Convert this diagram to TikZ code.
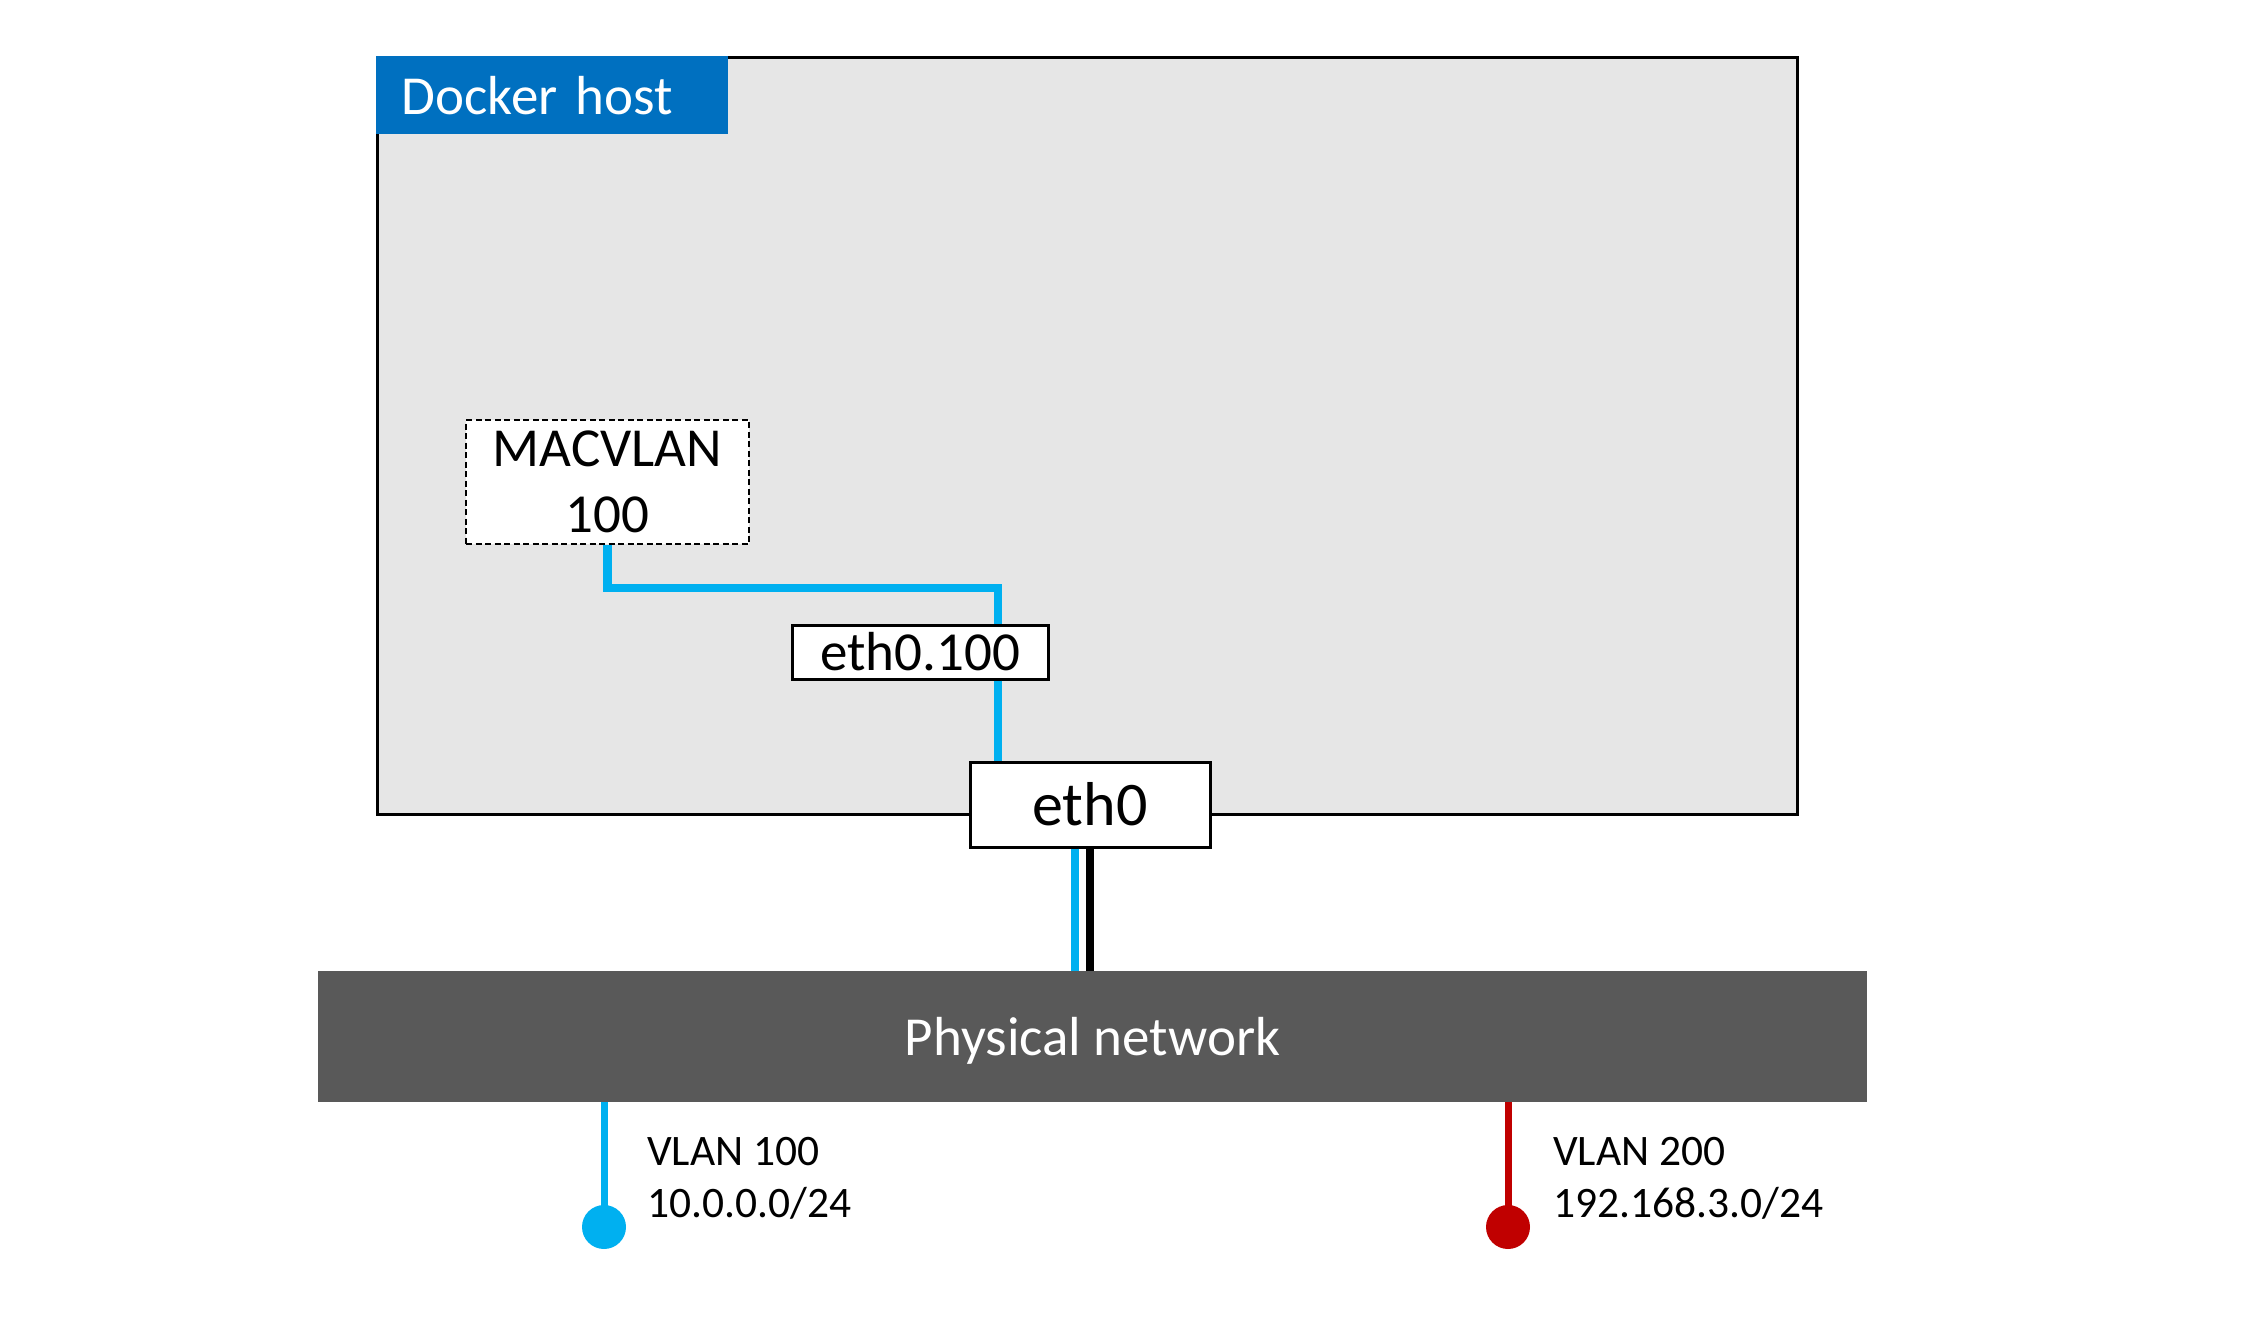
\documentclass[tikz,border=0pt]{standalone}
\usepackage{fontspec}
\setmainfont{Carlito}
\definecolor{hostgray}{HTML}{E6E6E6}
\definecolor{dockerblue}{HTML}{0070C0}
\definecolor{linkblue}{HTML}{00B0F0}
\definecolor{netgray}{HTML}{595959}
\definecolor{vlanred}{HTML}{C00000}
\begin{document}
\begin{tikzpicture}[x=1pt,y=-1pt,
  hostbox/.style={draw=black, line width=3pt, fill=hostgray, inner sep=0pt},
  ifbox/.style={draw=black, line width=3pt, fill=white, inner sep=2pt, align=center},
  macbox/.style={draw=black, line width=2.5pt, dash pattern=on 6pt off 3.5pt, fill=white, inner sep=2pt, align=center},
  bigfont/.style={font=\fontsize{55}{66}\selectfont},
  blueline/.style={draw=linkblue, line width=8.5pt},
  blackline/.style={draw=black, line width=8.5pt},
  vlanline/.style={line width=7pt},
  dot/.style={circle, inner sep=0pt, minimum size=44pt},
  vlantext/.style={anchor=west, align=left, inner sep=0pt, font=\fontsize{43.5}{52}\selectfont}
]
\useasboundingbox (0,0) rectangle (2254,1331);

% Docker host
\node[hostbox, minimum width=1420pt, minimum height=757pt] (host) at (1087,435.5) {};
\node[anchor=north west, fill=dockerblue, text=white, minimum height=78pt,
      text width=300pt, inner xsep=26pt, inner ysep=0pt, align=left, bigfont]
      (lbl) at (375.5,56) {Docker host};

% Interfaces
\node[macbox, bigfont, minimum width=283pt, minimum height=124pt] (mac) at (607.5,482) {MACVLAN\\100};
\node[ifbox, bigfont, minimum width=256pt, minimum height=54pt] (e100) at (920,652) {eth0.100};

\coordinate (j2) at (998,588);
\draw[blueline, line join=miter] (mac.south) |- (j2) -- (j2 |- e100.north);
\draw[blueline] (j2 |- e100.south) -- (j2 |- 0,762);

\node[ifbox, font=\fontsize{62}{74}\selectfont, minimum width=240pt, minimum height=85pt] (eth0) at (1090,804.5) {eth0};

% Physical network
\node[fill=netgray, text=white, bigfont, text depth=0pt, minimum width=1549pt, minimum height=131pt, inner sep=0pt]
      (net) at (1092.5,1036.5) {Physical network};

\draw[blueline] ([xshift=-15pt]eth0.south) -- ([xshift=-15pt]eth0.south |- net.north);
\draw[blackline] (eth0.south) -- (eth0.south |- net.north);

% VLANs
\node[dot, fill=linkblue] (d1) at (604,1227) {};
\node[dot, fill=vlanred] (d2) at (1508,1227) {};
\draw[vlanline, draw=linkblue] (d1 |- net.south) -- (d1.center);
\draw[vlanline, draw=vlanred] (d2 |- net.south) -- (d2.center);

\node[vlantext] (t1) at (647,1178) {VLAN 100\\10.0.0.0/24};
\node[vlantext] (t2) at (1553,1178) {VLAN 200\\192.168.3.0/24};
\end{tikzpicture}
\end{document}
